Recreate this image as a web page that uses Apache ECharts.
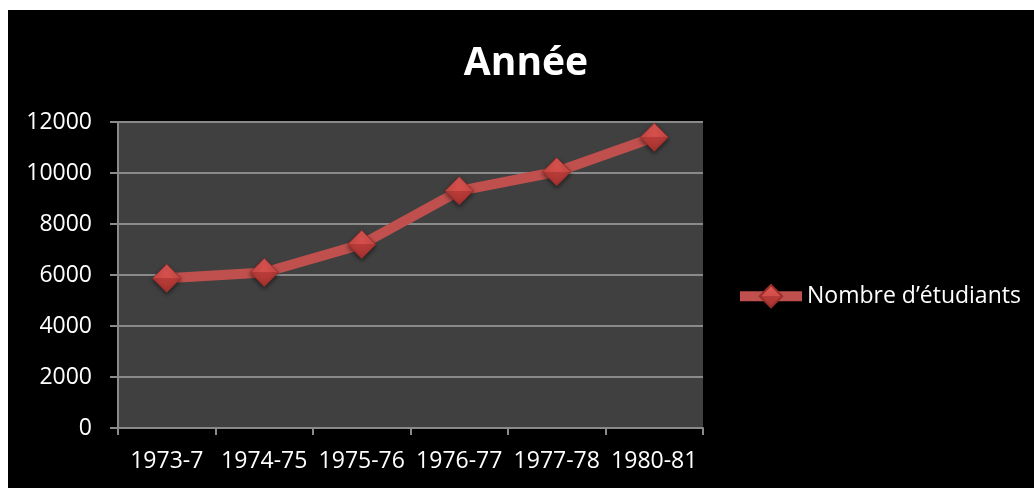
<!DOCTYPE html>
<html>
<head>
<meta charset="utf-8">
<script src="https://cdn.jsdelivr.net/npm/echarts@6/dist/echarts.min.js"></script>
<style>
  html, body { margin: 0; padding: 0; background: #fff; }
  #chart { position: absolute; left: 8px; top: 10px; width: 1026px; height: 478px; }
</style>
</head>
<body>
<div id="chart"></div>
<script>
  // données
  var years = ['1973-7', '1974-75', '1975-76', '1976-77', '1977-78', '1980-81'];
  var students = [5870, 6100, 7200, 9300, 10050, 11400];
  var seriesName = 'Nombre d\u2019\u00e9tudiants';

  var font = '"Open Sans", sans-serif';
  var chart = echarts.init(document.getElementById('chart'));

  var markerColor = new echarts.graphic.LinearGradient(0, 0, 0, 1, [
    { offset: 0, color: '#e25a56' },
    { offset: 0.5, color: '#d24c48' },
    { offset: 0.5, color: '#b83c39' },
    { offset: 1, color: '#a8332f' }
  ]);

  var options = {
    backgroundColor: '#000',
    animation: false,
    textStyle: { fontFamily: font },
    title: {
      text: 'Année',
      left: 513,
      top: 29,
      textAlign: 'center',
      textStyle: { color: '#fff', fontSize: 39, fontWeight: 'bold', fontFamily: font }
    },
    legend: {
      data: [seriesName],
      left: 722,
      top: 269,
      itemWidth: 62,
      itemHeight: 28,
      itemGap: 0,
      lineStyle: { width: 10, color: '#c0504d' },
      textStyle: { color: '#fff', fontSize: 23, fontFamily: font }
    },
    grid: {
      left: 110,
      top: 112,
      width: 585,
      height: 306,
      show: true,
      backgroundColor: '#404040',
      borderWidth: 0
    },
    xAxis: {
      type: 'category',
      data: years,
      boundaryGap: true,
      axisLine: { lineStyle: { color: '#8a8a8a', width: 2 } },
      axisTick: { show: true, alignWithLabel: false, length: 7, lineStyle: { color: '#8a8a8a', width: 2 } },
      axisLabel: { color: '#fff', fontSize: 23, margin: 22, interval: 0 },
      splitLine: { show: false }
    },
    yAxis: {
      type: 'value',
      min: 0,
      max: 12000,
      interval: 2000,
      axisLine: { show: true, lineStyle: { color: '#8a8a8a', width: 2 } },
      axisTick: { show: true, length: 8, lineStyle: { color: '#8a8a8a', width: 2 } },
      axisLabel: { color: '#fff', fontSize: 23, margin: 26, formatter: function (v) { return String(v); } },
      splitLine: { lineStyle: { color: '#8a8a8a', width: 2 } }
    },
    series: [{
      name: seriesName,
      type: 'line',
      data: students,
      symbol: 'diamond',
      symbolSize: 28,
      lineStyle: { color: '#c0504d', width: 10 },
      itemStyle: {
        color: markerColor,
        borderColor: '#9a2e2b',
        borderWidth: 1,
        shadowColor: 'rgba(0,0,0,0.5)',
        shadowBlur: 4,
        shadowOffsetY: 2
      },
      z: 3
    }]
  };

  chart.setOption(options);
</script>
</body>
</html>
